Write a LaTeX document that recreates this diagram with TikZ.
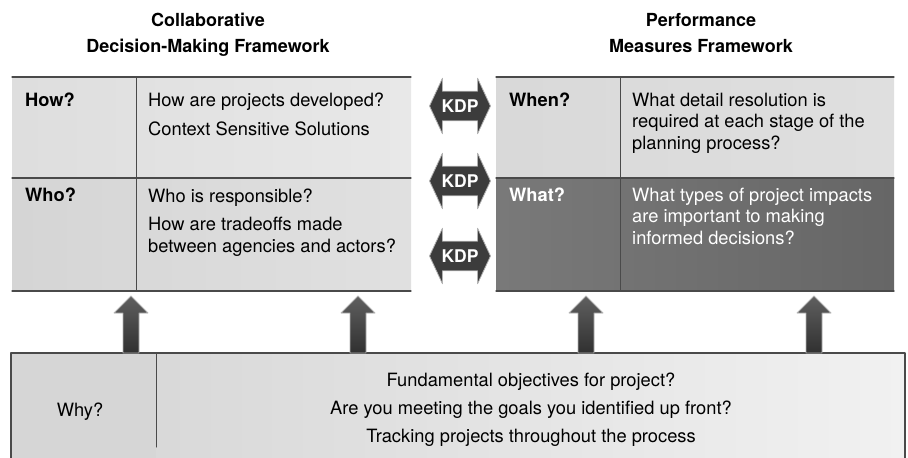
\documentclass[tikz,border=0pt]{standalone}
\usepackage{fontspec}
\setmainfont{TeX Gyre Heros}
\usetikzlibrary{shapes.arrows}
\definecolor{rulegray}{HTML}{4A4A4A}
\definecolor{arrowgray}{HTML}{3C3C3C}
\begin{document}
\begin{tikzpicture}[x=1pt,y=-1pt,line join=round,line cap=round,
	txt/.style={font=\fontsize{18.3}{21.5}\selectfont,inner sep=0pt,align=left,anchor=base west},
	head/.style={font=\fontsize{18}{26}\selectfont\bfseries,inner sep=0pt,align=center,anchor=base},
	rule/.style={rulegray,line width=1.3},
	kdp/.style={double arrow,double arrow head extend=13pt,double arrow tip angle=130,
		minimum height=61pt,inner xsep=0pt,inner ysep=8pt,fill=arrowgray,draw=gray!60,
		line width=0.8,text=white,font=\fontsize{17.5}{20}\selectfont\bfseries},
	uparrow/.style={top color=gray!75!black,bottom color=arrowgray!80!black,draw=gray!60,line width=0.8}]
	\useasboundingbox (0,0) rectangle (908,458);
	% corners of the three frames
	\coordinate (L) at (12,77);   \coordinate (Lm) at (136,178); \coordinate (Lb) at (411,291);
	\coordinate (R) at (496,77);  \coordinate (Rm) at (620,178); \coordinate (Rb) at (894,291);
	\coordinate (B) at (11,353);  \coordinate (Bm) at (156,447); \coordinate (Bb) at (905,458);
	% fills
	\fill[left color=gray!26,right color=gray!18] (12,77) rectangle (411,178);
	\fill[left color=gray!33,right color=gray!24] (12,178) rectangle (411,291);
	\fill[left color=gray!30,right color=gray!25] (496,77) rectangle (894,178);
	\fill[left color=gray!60!black!75,right color=gray!50!black!80] (496,178) rectangle (894,291);
	\fill[gray!32] (11,353) rectangle (156,458);
	\fill[left color=gray!30,right color=gray!11] (156,353) rectangle (905,458);
	% frame lines
	\draw[rule] (12,77) -- (411,77) (12,178) -- (411,178) (12,291) -- (411,291);
	\draw[rulegray,line width=1] (Lm|-L) -- (Lm|-Lb);
	\draw[rule] (496,77) -- (894,77) (496,178) -- (894,178) (496,291) -- (894,291);
	\draw[rulegray,line width=1] (Rm|-R) -- (Rm|-Rb);
	\draw[rule] (905,458) -- (905,353) -- (11,353) -- (11,458);
	\draw[rulegray,line width=1] (Bm|-B) -- (Bm);
	% titles (base = last line)
	\node[head] (cdm) at (208,52) {Collaborative\\Decision-Making Framework};
	\node[head] (pmf) at (701,52) {Performance\\Measures Framework};
	% cells, multi-line nodes sit on their last baseline
	\node[txt] (how) at (25,106) {\bfseries How?};
	\node[txt] (howq) at (148,135) {How are projects developed?\\[7pt]Context Sensitive Solutions};
	\node[txt] (who) at (25,201) {\bfseries Who?};
	\node[txt] (whoq) at (148,252) {Who is responsible?\\[7pt]How are tradeoffs made\\between agencies and actors?};
	\node[txt] (when) at (509,106) {\bfseries When?};
	\node[txt] (whenq) at (632,149) {What detail resolution is\\required at each stage of the\\planning process?};
	\node[txt,white] (what) at (509,201) {\bfseries What?};
	\node[txt,white] (whatq) at (632,244) {What types of project impacts\\are important to making\\informed decisions?};
	\node[txt,anchor=base] (why) at (80,416) {Why?};
	\node[txt,anchor=base,align=center,font=\fontsize{18.3}{28}\selectfont] (goals) at (531,442)
		{Fundamental objectives for project?\\Are you meeting the goals you identified up front?\\Tracking projects throughout the process};
	% key decision points
	\foreach \y/\n in {106/1,181/2,256/3}
		\node[kdp] (kdp\n) at (460,\y) {KDP};
	% links up from the bottom frame
	\foreach \x in {131,358,586,814}
		\draw[uparrow] (\x-8,353) -- (\x-8,313) -- (\x-17,313) -- (\x,296) -- (\x+17,313) -- (\x+8,313) -- (\x+8,353) -- cycle;
\end{tikzpicture}
\end{document}
